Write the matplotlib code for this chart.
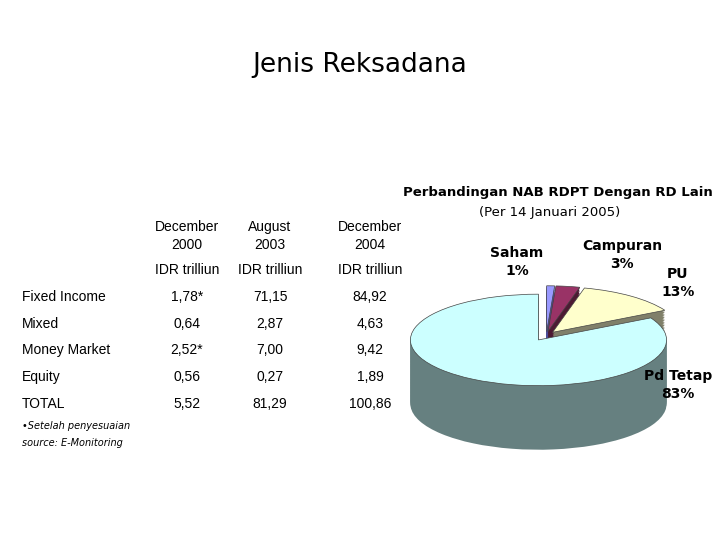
import matplotlib
matplotlib.use("Agg")
import matplotlib.pyplot as plt
import numpy as np

periods = ["December\n2000", "August\n2003", "December\n2004"]
units = ["IDR trilliun", "IDR trilliun", "IDR trilliun"]
rows = ["Fixed Income", "Mixed", "Money Market", "Equity", "TOTAL"]
values = [["1,78*", "71,15", "84,92"],
          ["0,64", "2,87", "4,63"],
          ["2,52*", "7,00", "9,42"],
          ["0,56", "0,27", "1,89"],
          ["5,52", "81,29", "100,86"]]

pie_labels = ["Saham\n1%", "Campuran\n3%", "PU\n13%", "Pd Tetap\n83%"]
pie_vals = [1, 3, 13, 83]
top_colors = ["#9999ff", "#993366", "#ffffcc", "#ccffff"]
side_colors = ["#4d4d99", "#4d1a33", "#80806a", "#668080"]
explode = [0.08, 0.08, 0.08, 0.12]

W, H = 720, 540
fig = plt.figure(figsize=(7.2, 5.4), dpi=100)
def fx(x): return x / W
def fy(y): return 1 - y / H

fig.text(fx(360), fy(65), "Jenis Reksadana", ha="center", va="center",
         fontsize=19, family="DejaVu Sans")

cols = [187, 270, 370]
for x, p, u in zip(cols, periods, units):
    fig.text(fx(x), fy(236), p, ha="center", va="center", fontsize=10, linespacing=1.3,
             family="Liberation Sans")
    fig.text(fx(x), fy(270), u, ha="center", va="center", fontsize=10, family="Liberation Sans")
ys = [297, 324, 350, 377, 404]
for y, r, vals in zip(ys, rows, values):
    fig.text(fx(22), fy(y), r, ha="left", va="center", fontsize=10, family="Liberation Sans")
    for x, v in zip(cols, vals):
        fig.text(fx(x), fy(y), v, ha="center", va="center", fontsize=10, family="Liberation Sans")
fig.text(fx(22), fy(426), "•Setelah penyesuaian", fontsize=7, style="italic", va="center")
fig.text(fx(22), fy(443), "source: E-Monitoring", fontsize=7, style="italic", va="center")

fig.text(fx(558), fy(192), "Perbandingan NAB RDPT Dengan RD Lain", ha="center", va="center",
         fontsize=9.5, fontweight="bold", family="DejaVu Sans Condensed")
fig.text(fx(550), fy(213), "(Per 14 Januari 2005)", ha="center", va="center", fontsize=9.5,
         family="DejaVu Sans Condensed")

ax = fig.add_axes([fx(408), fy(445), fx(700) - fx(408), (445 - 262) / H])
depth = 1.4
for d in np.linspace(depth, 0.02, 40):
    ax.pie(pie_vals, startangle=90, counterclock=False, explode=explode,
           colors=side_colors, center=(0, -d), radius=1, frame=True,
           wedgeprops=dict(linewidth=0))
ax.pie(pie_vals, startangle=90, counterclock=False, explode=explode,
       colors=top_colors, center=(0, 0), radius=1, frame=True,
       wedgeprops=dict(linewidth=0.5, edgecolor="#444444"))
ax.set_xlim(-1.08, 1.2)
ax.set_ylim(-2.4, 1.6)
ax.set_aspect("auto")
ax.axis("off")

pos = [(517, 262), (622, 255), (678, 283), (678, 385)]
for (x, y), t in zip(pos, pie_labels):
    fig.text(fx(x), fy(y), t, ha="center", va="center", fontsize=10, fontweight="bold",
             family="DejaVu Sans Condensed", linespacing=1.4)

fig.savefig("out.png", dpi=100)
